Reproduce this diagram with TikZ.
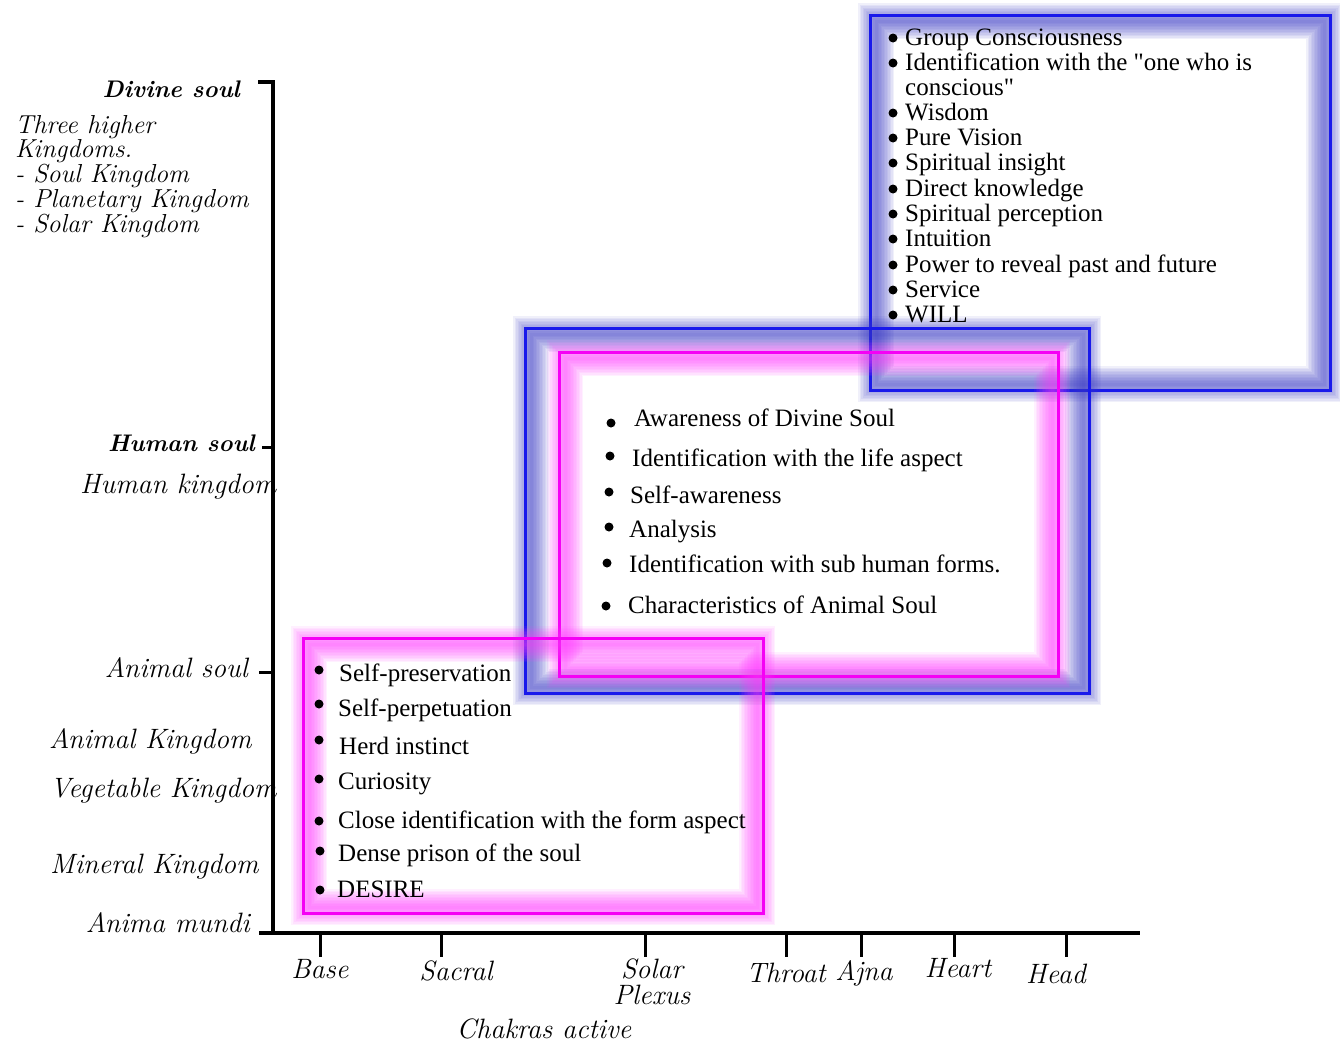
\documentclass[tikz,border=0pt]{standalone}
\usepackage{fontspec}
\newfontfamily\timesfont{Liberation Serif}
\newfontfamily\handfont{Latin Modern Roman}
\definecolor{glowblue}{RGB}{60,60,200}
\definecolor{coreblue}{RGB}{25,25,235}
\definecolor{glowmag}{RGB}{255,60,255}
\definecolor{coremag}{RGB}{245,0,245}
\tikzset{
  hand/.style={font=\handfont\itshape\fontsize{28}{26}\selectfont, inner sep=0pt},
  handsmall/.style={font=\handfont\itshape\fontsize{26}{25}\selectfont, inner sep=0pt, anchor=base west},
  handbold/.style={font=\handfont\itshape\bfseries\fontsize{24}{24}\selectfont, inner sep=0pt},
  itm/.style={anchor=base west, inner sep=0pt, font=\timesfont\fontsize{25}{25}\selectfont},
  dot/.style={circle, fill=black, inner sep=0pt, minimum size=9pt},
  axisline/.style={line width=3.5pt},
  tickline/.style={line width=3pt},
}
% glowing frame: glow colour, line colour, corners
\newcommand{\glowbox}[6]{%
  \foreach \w in {3,6,...,36}
    \draw[#1, line width=\w, opacity=.075] (#3+6,#4+6) rectangle (#5-6,#6-6);
  \draw[#2, line width=3pt] (#3,#4) rectangle (#5,#6);
}

\begin{document}
\begin{tikzpicture}[x=1pt,y=-1pt]
  \fill[white] (0,0) rectangle (1340,1044);
  \useasboundingbox (0,0) rectangle (1340,1044);

  \glowbox{glowblue}{coreblue}{870}{15}{1330}{390}
  \glowbox{glowblue}{coreblue}{525}{328}{1089}{693}
  \glowbox{glowmag}{coremag}{559}{352}{1058}{676}
  \glowbox{glowmag}{coremag}{303}{638}{763}{913}

  % axes
  \coordinate (top) at (273,82);
  \coordinate (origin) at (273,933);
  \coordinate (xend) at (1140,933);
  \coordinate (hs) at (273,447);
  \coordinate (as) at (273,672);
  \draw[axisline] (258,82) -- (top) -- (origin);
  \draw[axisline] (259,933) -- (xend);
  \draw[tickline] (hs) -- ++(-11,0);
  \draw[tickline] (as) -- ++(-14,0);
  \foreach \n/\x in {base/320,sacral/441,solar/645,throat/786,ajna/861,heart/954,head/1066}
    \draw[tickline] (\x,933) -- (\x,957) coordinate (\n);

  % levels
  \node[handbold, anchor=base east] (divine) at (240,97) {Divine soul};
  \node[handsmall] (three) at (15,133) {Three higher};
  \node[handsmall] (kingdoms) at (15,157) {Kingdoms.};
  \node[handsmall] (soulk) at (15,182) {- Soul Kingdom};
  \node[handsmall] (planetk) at (15,207) {- Planetary Kingdom};
  \node[handsmall] (solark) at (15,232) {- Solar Kingdom};
  \node[handbold, anchor=base east] (humansoul) at (255,451) {Human soul};
  \node[hand, anchor=base west] (humank) at (80,493) {Human kingdom};
  \node[hand, anchor=base east] (animalsoul) at (248,677) {Animal soul};
  \node[hand, anchor=base west] (animalk) at (49,748) {Animal Kingdom};
  \node[hand, anchor=base west] (vegk) at (50,797) {Vegetable Kingdom};
  \node[hand, anchor=base west] (mink) at (50,873) {Mineral Kingdom};
  \node[hand, anchor=base east] (mundi) at (250,932) {Anima mundi};

  % chakras
  \node[hand, anchor=base] (lbase) at (320,978) {Base};
  \node[hand, anchor=base] (lsacral) at (456,980) {Sacral};
  \node[hand, anchor=north, align=center] (lsolar) at (652,959) {Solar\\Plexus};
  \node[hand, anchor=base] (lthroat) at (786,982) {Throat};
  \node[hand, anchor=base] (lajna) at (864,980) {Ajna};
  \node[hand, anchor=base] (lheart) at (958,977) {Heart};
  \node[hand, anchor=base] (lhead) at (1056,983) {Head};
  \node[hand, anchor=base] (chakras) at (544,1038) {Chakras active};

  % divine soul
  \node[itm] (g1) at (905,45) {Group Consciousness};
  \node[itm] (g2) at (905,70) {Identification with the "one who is};
  \node[itm] (g2b) at (905,95) {conscious"};
  \node[itm] (g3) at (905,120) {Wisdom};
  \node[itm] (g4) at (905,145) {Pure Vision};
  \node[itm] (g5) at (905,170) {Spiritual insight};
  \node[itm] (g6) at (905,196) {Direct knowledge};
  \node[itm] (g7) at (905,221) {Spiritual perception};
  \node[itm] (g8) at (905,246) {Intuition};
  \node[itm] (g9) at (905,272) {Power to reveal past and future};
  \node[itm] (g10) at (905,297) {Service};
  \node[itm] (g11) at (905,322) {WILL};
  \foreach \i/\y in {1/38,2/63,3/113,4/138,5/163,6/189,7/214,8/239,9/265,10/290,11/315}
    \node[dot] (gd\i) at (893,\y) {};

  % human soul
  \node[itm] (h1) at (634,426) {Awareness of Divine Soul};
  \node[itm] (h2) at (632,466) {Identification with the life aspect};
  \node[itm] (h3) at (630,503) {Self-awareness};
  \node[itm] (h4) at (629,537) {Analysis};
  \node[itm] (h5) at (629,572) {Identification with sub human forms.};
  \node[itm] (h6) at (628,613) {Characteristics of Animal Soul};
  \foreach \i/\x/\y in {1/611/423,2/610/456,3/609/492,4/609/527,5/607/563,6/606/606}
    \node[dot] (hd\i) at (\x,\y) {};

  % animal soul
  \node[itm] (a1) at (339,681) {Self-preservation};
  \node[itm] (a2) at (338,716) {Self-perpetuation};
  \node[itm] (a3) at (339,754) {Herd instinct};
  \node[itm] (a4) at (338,789) {Curiosity};
  \node[itm] (a5) at (338,828) {Close identification with the form aspect};
  \node[itm] (a6) at (338,861) {Dense prison of the soul};
  \node[itm] (a7) at (337,897) {DESIRE};
  \foreach \i/\x/\y in {1/319/670,2/319/704,3/319/740,4/319/779,5/319/821,6/320/851,7/320/890}
    \node[dot] (ad\i) at (\x,\y) {};
\end{tikzpicture}
\end{document}
